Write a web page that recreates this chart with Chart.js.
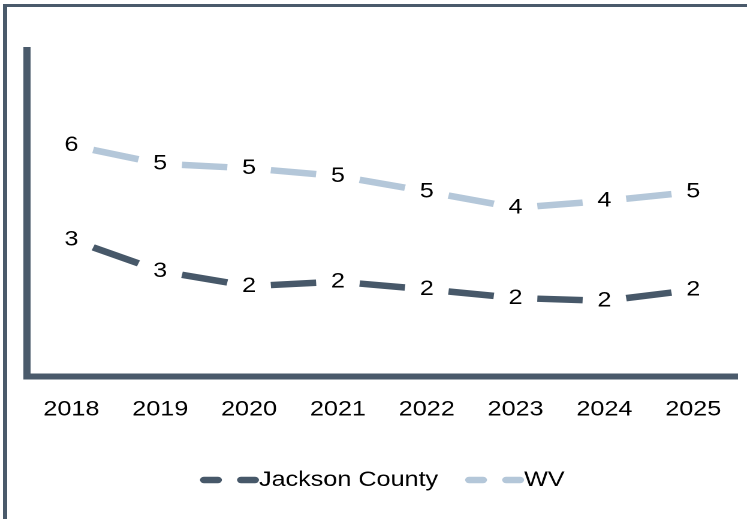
<!DOCTYPE html>
<html>
<head>
<meta charset="utf-8">
<script src="https://cdn.jsdelivr.net/npm/chart.js@4.4.1/dist/chart.umd.min.js"></script>
<style>
  html, body { margin: 0; padding: 0; background: #fff; }
  body { width: 747px; height: 519px; position: relative; overflow: hidden; }
  #frame {
    position: absolute; left: 3px; top: 4px; width: 760px; height: 530px;
    border-top: 3px solid #4a5a6b; border-left: 4px solid #4a5a6b;
  }
  #wrap {
    position: absolute; left: 0; top: 0; width: 623px; height: 519px;
    transform: scaleX(1.199); transform-origin: 0 0;
  }
</style>
</head>
<body>
<div id="frame"></div>
<div id="wrap"><canvas id="chart" width="623" height="519"></canvas></div>
<script>
// values
const years = ['2018', '2019', '2020', '2021', '2022', '2023', '2024', '2025'];
const jacksonCounty = [3.35, 2.58, 2.21, 2.32, 2.13, 1.92, 1.85, 2.12];
const wv = [5.66, 5.21, 5.10, 4.91, 4.53, 4.13, 4.30, 4.52];
const seriesNames = ['Jackson County', 'WV'];
const seriesColors = ['#475869', '#b4c7d9'];

const FONT = '"Liberation Sans", Arial, sans-serif';
const AXIS_COLOR = '#4a5a6b';

// one dash per segment, centred between the two points
const dashPart = 0.51;
function segLen(ctx) {
    return Math.hypot(ctx.p1.x - ctx.p0.x, ctx.p1.y - ctx.p0.y);
}
const segmentStyle = {
    borderDash: ctx => {
        const L = segLen(ctx);
        return [L * dashPart, L];
    },
    borderDashOffset: ctx => {
        const L = segLen(ctx);
        const gap = L * (1 - dashPart) / 2;
        return L * dashPart + L - gap + ctx.p0DataIndex * 1e-4;
    }
};

const valueLabels = {
    id: 'valueLabels',
    afterDatasetsDraw(chart) {
        const ctx = chart.ctx;
        ctx.save();
        ctx.font = '21px ' + FONT;
        ctx.fillStyle = '#000';
        ctx.textAlign = 'center';
        ctx.textBaseline = 'middle';
        chart.data.datasets.forEach((ds, i) => {
            chart.getDatasetMeta(i).data.forEach((pt, j) => {
                ctx.fillText(String(Math.round(ds.data[j])), pt.x, pt.y);
            });
        });
        ctx.restore();
    }
};

const dashLegend = {
    id: 'dashLegend',
    afterDraw(chart) {
        const ctx = chart.ctx;
        const area = chart.chartArea;
        const y = chart.height - 39;
        const symW = 49.2, dashW = 18.3, lw = 6.5, itemGap = 22.5;
        ctx.save();
        ctx.font = '21px ' + FONT;
        const widths = chart.data.datasets.map(ds => symW + ctx.measureText(ds.label).width);
        const total = widths.reduce((a, b) => a + b, 0) + itemGap * (widths.length - 1);
        let x = (area.left + area.right) / 2 - total / 2;
        chart.data.datasets.forEach((ds, i) => {
            ctx.strokeStyle = ds.borderColor;
            ctx.lineWidth = lw;
            ctx.lineCap = 'round';
            ctx.setLineDash([]);
            [[x, x + dashW], [x + symW - dashW, x + symW]].forEach(([a, b]) => {
                ctx.beginPath();
                ctx.moveTo(a + lw / 2, y);
                ctx.lineTo(b - lw / 2, y);
                ctx.stroke();
            });
            ctx.fillStyle = '#000';
            ctx.textAlign = 'left';
            ctx.textBaseline = 'middle';
            ctx.fillText(ds.label, x + symW, y);
            x += widths[i] + itemGap;
        });
        ctx.restore();
    }
};

const ctx = document.getElementById('chart').getContext('2d');
new Chart(ctx, {
    type: 'line',
    data: {
        labels: years,
        datasets: [jacksonCounty, wv].map((vals, i) => ({
            label: seriesNames[i],
            data: vals,
            borderColor: seriesColors[i],
            backgroundColor: seriesColors[i],
            borderWidth: 6.5,
            borderCapStyle: 'butt',
            pointRadius: 0,
            tension: 0,
            fill: false,
            segment: segmentStyle
        }))
    },
    options: {
        responsive: false,
        devicePixelRatio: 2,
        animation: false,
        layout: { padding: { top: 50, left: 22.5, right: 7.5, bottom: 75.5 } },
        plugins: {
            legend: { display: false },
            tooltip: { enabled: false }
        },
        scales: {
            x: {
                offset: true,
                grid: { display: false, drawTicks: false },
                border: { display: true, width: 6, color: AXIS_COLOR },
                ticks: {
                    color: '#000',
                    font: { family: FONT, size: 21 },
                    padding: 21,
                    autoSkip: false,
                    maxRotation: 0
                }
            },
            y: {
                min: 0,
                max: 8,
                grid: { display: false, drawTicks: false },
                border: { display: true, width: 6, color: AXIS_COLOR },
                ticks: { display: false },
                afterFit: s => { s.width = 0; }
            }
        }
    },
    plugins: [valueLabels, dashLegend]
});
</script>
</body>
</html>
